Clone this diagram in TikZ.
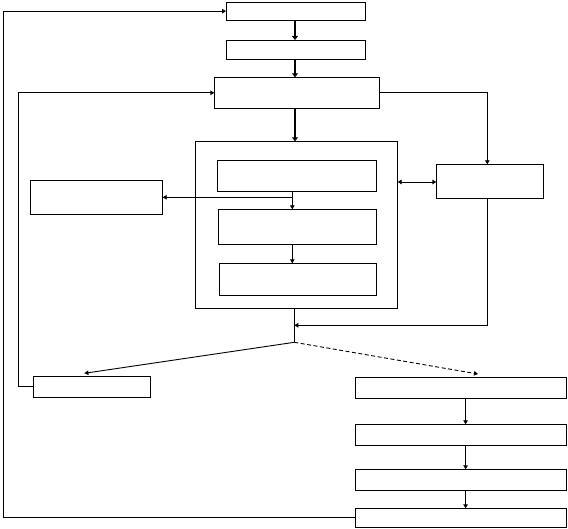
\documentclass[tikz,border=0pt]{standalone}
\usetikzlibrary{arrows.meta,fit}
\begin{document}
\begin{tikzpicture}[x=1pt,y=-1pt,
  box/.style={draw,line width=0.9pt,inner sep=0pt,outer sep=0pt},
  arr/.style={line width=0.9pt,-{Triangle[length=4pt,width=4.5pt]}},
  thickarr/.style={line width=2pt,-{Triangle[length=4pt,width=6pt]}},
  dasharr/.style={arr,dash pattern=on 4pt off 2.5pt}]
\useasboundingbox (0,0) rectangle (568,529);
% boxes
\node[box,fit={(226,2)(365.5,20.3)}] (b1) {};
\node[box,fit={(226,40)(365.5,59.3)}] (b2) {};
\node[box,fit={(214.3,77.3)(379.7,108.3)}] (b3) {};
\node[box,fit={(195.3,141.3)(397.7,308.3)}] (cont) {};
\node[box,fit={(217.3,160.3)(376.7,191.3)}] (in1) {};
\node[box,fit={(218.3,209.3)(376.7,244.3)}] (in2) {};
\node[box,fit={(219.3,263.3)(376.7,295.3)}] (in3) {};
\node[box,fit={(436.3,164.3)(543.7,198.7)}] (R) {};
\node[box,fit={(30,180.3)(162.7,214.3)}] (L) {};
\node[box,fit={(33.3,376.3)(150.4,397.3)}] (BL) {};
\node[box,fit={(355.4,377.3)(566.3,398.3)}] (r1) {};
\node[box,fit={(355.4,424.3)(566.3,445.3)}] (r2) {};
\node[box,fit={(355.4,469.3)(566.3,490.3)}] (r3) {};
\node[box,fit={(355.4,508.3)(566.3,527.3)}] (r4) {};
% helper coordinates
\coordinate (xm) at (295,0);
\coordinate (xa) at (292.3,0);
\coordinate (xs) at (294.3,0);
\coordinate (xr) at (487.3,0);
\coordinate (xc) at (465.6,0);
\coordinate (xf) at (3.5,0);
\coordinate (xg) at (18.5,0);
\coordinate (y182) at (0,182);
\coordinate (y325) at (0,325.3);
\coordinate (split) at (294.3,342.3);
\coordinate (tl) at (84.4,373.3);
\coordinate (tr) at (478,374);
% main chain
\draw[thickarr] (b1.south -| xm) -- (b2.north -| xm);
\draw[thickarr] (b2.south -| xm) -- (b3.north -| xm);
\draw[thickarr] (b3.south -| xm) -- (cont.north -| xm);
% feedback loops
\draw[arr] (r4.west) -- (r4.west -| xf) -- (b1.west -| xf) -- (b1.west);
\draw[arr] (BL.west) -- (BL.west -| xg) -- (b3.west -| xg) -- (b3.west);
% right branch
\draw[arr] (b3.east) -- (b3.east -| xr) -- (R.north -| xr);
\draw[arr,{Triangle[length=4pt,width=4.5pt]}-{Triangle[length=4pt,width=4.5pt]}] (cont.east |- y182) -- (R.west |- y182);
\draw[arr] (R.south -| xr) -- (xr |- y325) -- (xs |- y325);
% inner
\draw[arr] (in1.south -| xa) -- (in2.north -| xa);
\draw[arr] (L.east -| xa) -- (L.east);
\draw[arr] (in2.south -| xa) -- (in3.north -| xa);
% split
\draw[line width=0.9pt] (cont.south -| xs) -- (split);
\draw[arr] (split) -- (tl);
\draw[dasharr] (split) -- (tr);
% right column
\draw[arr] (r1.south -| xc) -- (r2.north -| xc);
\draw[arr] (r2.south -| xc) -- (r3.north -| xc);
\draw[arr] (r3.south -| xc) -- (r4.north -| xc);
\end{tikzpicture}
\end{document}
